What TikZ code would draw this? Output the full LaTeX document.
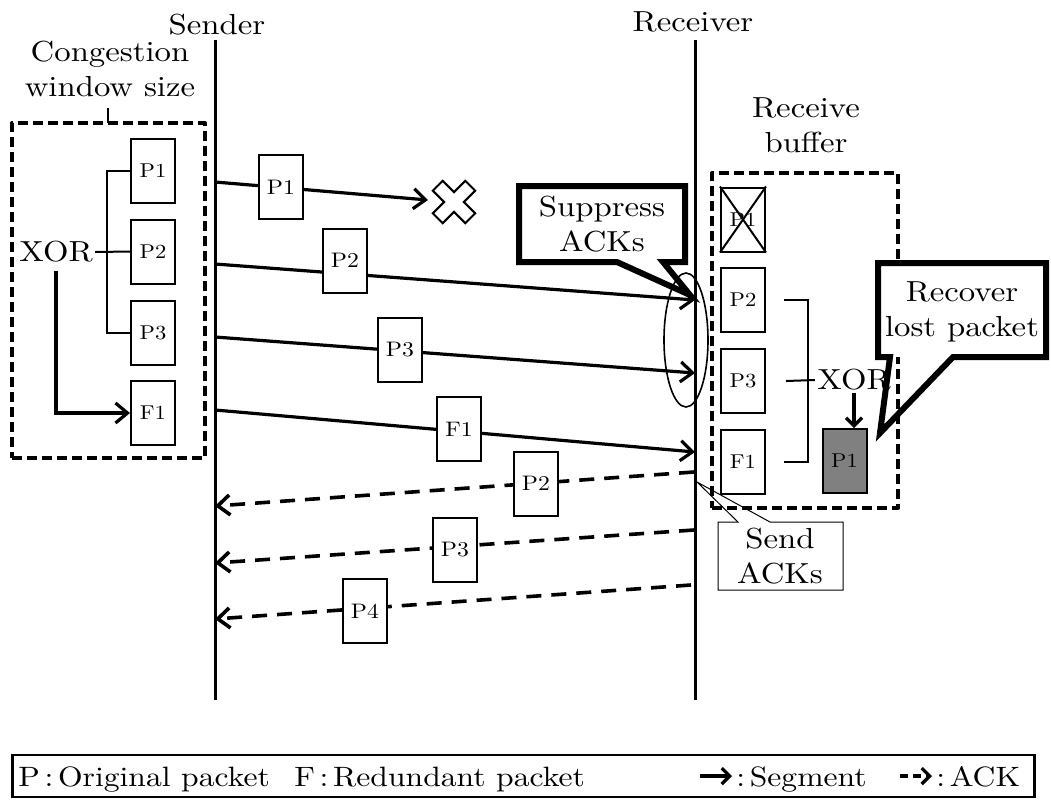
\documentclass[tikz,border=0pt]{standalone}
\usepackage{fontspec}
\setmainfont{lmroman10-regular}[Extension=.otf, FakeStretch=1.13]
\usetikzlibrary{arrows.meta,shapes.geometric}
\begin{document}
\begin{tikzpicture}[x=0.5pt,y=-0.5pt,
  big/.style={font=\fontsize{14.5}{17.5}\selectfont, align=center, inner sep=1pt},
  pkt/.style={draw, line width=1pt, fill=white, minimum width=22pt, minimum height=32pt, inner sep=0pt, font=\fontsize{10}{11}\selectfont},
  pktb/.style={pkt, font=\fontsize{10.5}{12}\selectfont},
  life/.style={line width=1.5pt},
  seg/.style={line width=1.6pt, -{Straight Barb[length=6pt,width=10pt]}},
  ack/.style={line width=1.8pt, dash pattern=on 7.5pt off 5pt, -{Straight Barb[length=6pt,width=10pt]}},
  thinl/.style={line width=1pt},
  winbox/.style={draw, line width=2pt, dash pattern=on 5pt off 2.5pt, line join=round, inner sep=0pt},
  callout/.style={line width=3pt, line join=miter},
  legt/.style={font=\fontsize{14}{16}\selectfont, inner sep=0pt, anchor=base west},
  legarrow/.style={line width=1.6pt, -{Straight Barb[length=4pt,width=8pt]}}
]
\useasboundingbox (0,0) rectangle (1051,799);

% lifelines
\node[big] (snd) at (217,25) {Sender};
\node[big] (rcv) at (693,22) {Receiver};
\coordinate (stop) at (215,40); \coordinate (sbot) at (215,700);
\coordinate (rtop) at (695,40); \coordinate (rbot) at (695,700);
\draw[life] (stop) -- (sbot);
\draw[life] (rtop) -- (rbot);

% congestion window
\node[big] (cwl) at (110,69) {Congestion\\window size};
\node[winbox, minimum width=96.5pt, minimum height=167.5pt] (cwnd) at (108.5,290.5) {};
\draw[thinl] (108,108) -- (108,123);
\node[pkt] (wp1) at (153,171) {P1};
\node[pkt] (wp2) at (153,251.5) {P2};
\node[pkt] (wp3) at (153,332.5) {P3};
\node[pkt] (wf1) at (153,413) {F1};
\node[big] (wxor) at (56,252) {XOR};
\draw[thinl] (wp1.west) -- ++(-23,0) coordinate (wbt) -- (wbt |- wp3.west) -- (wp3.west);
\draw[thinl] (wxor.east) -- (wp2.west);
\draw[seg] ([yshift=-3pt]wxor.south) |- (wf1.west);

% segments
\coordinate (s1) at (215,182); \coordinate (lossend) at (428,200);
\coordinate (s2) at (215,264); \coordinate (r2) at (695,300);
\coordinate (s3) at (215,337); \coordinate (r3) at (695,373);
\coordinate (s4) at (215,410); \coordinate (r4) at (695,452);
\draw[seg] (s1) -- (lossend);
\draw[seg] (s2) -- (r2);
\draw[seg] (s3) -- (r3);
\draw[seg] (s4) -- (r4);
\node[pktb] (sp1) at (281,187) {P1};
\node[pktb] (sp2) at (345,260.5) {P2};
\node[pktb] (sp3) at (400,350) {P3};
\node[pktb] (sf1) at (459,429) {F1};
\coordinate (lost) at (454,202);
\draw[line width=1pt, fill=white, shift={(lost)}, rotate=45]
  (-23,-7) -- (-7,-7) -- (-7,-23) -- (7,-23) -- (7,-7) -- (23,-7) -- (23,7)
  -- (7,7) -- (7,23) -- (-7,23) -- (-7,7) -- (-23,7) -- cycle;

% acks
\coordinate (a2r) at (694,472); \coordinate (a2s) at (215,506);
\coordinate (a3r) at (694,530); \coordinate (a3s) at (215,563);
\coordinate (a4r) at (691,585); \coordinate (a4s) at (215,619);
\draw[ack] (a2r) -- (a2s);
\draw[ack] (a3r) -- (a3s);
\draw[ack] (a4r) -- (a4s);
\node[pktb] (ap2) at (536,483.5) {P2};
\node[pktb] (ap3) at (455,549.5) {P3};
\node[pktb] (ap4) at (365,611) {P4};

% ellipse
\node[draw, ellipse, line width=0.8pt, minimum width=22pt, minimum height=67pt, inner sep=0pt] (ell) at (686,340) {};

% receive buffer
\node[big] (rbl) at (806,125) {Receive\\buffer};
\node[winbox, minimum width=93pt, minimum height=167.5pt] (rbuf) at (805,340.5) {};
\node[pkt] (rb1) at (743,219.5) {P1};
\draw[thinl] (rb1.north west) -- (rb1.south east);
\draw[thinl] (rb1.north east) -- (rb1.south west);
\node[pkt] (rb2) at (743,299.5) {P2};
\node[pkt] (rb3) at (743,381) {P3};
\node[pkt] (rf1) at (743,461.5) {F1};
\node[big] (rxor) at (854,380) {XOR};
\draw[thinl] ([xshift=9pt]rb2.east) -- ++(24,0) coordinate (rbt) -- (rbt |- rf1.east) -- ([xshift=9pt]rf1.east);
\draw[thinl] ([xshift=10pt]rb3.east) -- (rxor.west);
\node[pkt, fill=black!50] (rp1) at (844.5,461) {P1};
\draw[line width=1.6pt, -{Straight Barb[length=4pt,width=8pt]}] (rxor.south) -- (rxor.south |- rp1.north);

% suppress callout
\fill[white] (519,186) rectangle (685,262);
\draw[callout] (617,262) -- (519,262) -- (519,186) -- (685,186) -- (685,262) -- (663,262) -- (690,295) -- cycle;
\node[big] (sup) at (602,224) {Suppress\\ACKs};

% recover callout
\fill[white] (878,263) rectangle (1046,357);
\draw[callout] (890,357) -- (878,357) -- (878,263) -- (1046,263) -- (1046,357) -- (953,357) -- (880,433) -- cycle;
\node[big] (rec) at (962,312) {Recover\\lost packet};

% send acks callout
\fill[white] (718,522) rectangle (843,590);
\draw[line width=0.5pt] (738,522) -- (718,522) -- (718,590) -- (843,590) -- (843,522) -- (770,522) -- (697,482) -- cycle;
\node[big] (sack) at (780,556) {Send\\ACKs};

% legend
\node[draw, line width=1.2pt, minimum width=511pt, minimum height=21pt, inner sep=0pt] (leg) at (523.5,776) {};
\node[legt] (lg1) at (18,786) {P\,:\,Original packet};
\node[legt] (lg2) at (294,786) {F\,:\,Redundant packet};
\coordinate (la1) at (700,776); \coordinate (la2) at (732,776);
\draw[legarrow] (la1) -- (la2);
\node[legt] (lg3) at (736,786) {:\,Segment};
\coordinate (lb1) at (900,776); \coordinate (lb2) at (932,776);
\draw[legarrow, dash pattern=on 4pt off 2.5pt] (lb1) -- (lb2);
\node[legt] (lg4) at (936,786) {:\,ACK};
\end{tikzpicture}
\end{document}
